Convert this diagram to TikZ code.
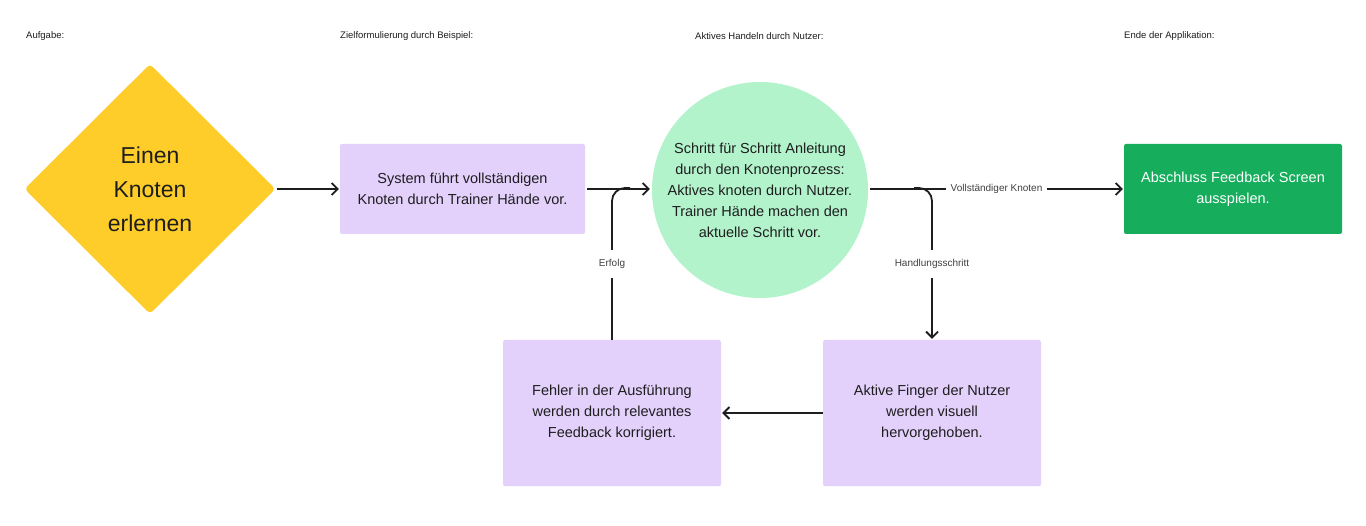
\documentclass[tikz,border=0pt]{standalone}
\usepackage{fontspec}
\setmainfont{Liberation Sans}
\usetikzlibrary{shapes.geometric,arrows.meta}
\definecolor{cyellow}{HTML}{FFCD29}
\definecolor{cviolet}{HTML}{E3D1FC}
\definecolor{clgreen}{HTML}{B2F3CC}
\definecolor{cgreen}{HTML}{16AE5C}
\definecolor{cline}{HTML}{1E1E1E}
\tikzset{
  box/.style={rectangle, rounded corners=2pt, inner sep=0pt, align=center, font=\fontsize{14.5}{21}\selectfont, text=cline},
  head/.style={anchor=west, inner sep=0pt, font=\fontsize{9.5}{11}\selectfont, text=cline},
  conn/.style={draw=cline, line width=1.8pt},
  arr/.style={conn, -{Straight Barb[length=6pt,width=12pt,line width=1.8pt]}},
  lbl/.style={fill=white, inner xsep=5pt, inner ysep=9pt, font=\fontsize{10}{12}\selectfont, text=cline!85}
}
\begin{document}
\begin{tikzpicture}[x=1pt,y=1pt]
\useasboundingbox (0,0) rectangle (1366,-526);
\fill[white] (0,0) rectangle (1366,-526);
% headers
\node[head] (h1) at (26,-36) {Aufgabe:};
\node[head] (h2) at (340,-36) {Zielformulierung durch Beispiel:};
\node[head] (h3) at (695,-36) {Aktives Handeln durch Nutzer:};
\node[head] (h4) at (1124,-36) {Ende der Applikation:};
% nodes
\node[diamond, aspect=1, fill=cyellow, minimum width=251pt, minimum height=250pt, inner sep=0pt, rounded corners=4pt, align=center, font=\fontsize{23}{34}\selectfont, text=cline] (d) at (150,-189) {Einen\\Knoten\\erlernen};
\node[box, fill=cviolet, minimum width=245pt, minimum height=90pt] (b1) at (462.5,-189) {System führt vollständigen\\Knoten durch Trainer Hände vor.};
\node[circle, fill=clgreen, minimum size=216pt, inner sep=0pt, align=center, font=\fontsize{14.5}{21}\selectfont, text=cline] (c) at (760,-190) {Schritt für Schritt Anleitung\\durch den Knotenprozess:\\Aktives knoten durch Nutzer.\\Trainer Hände machen den\\aktuelle Schritt vor.};
\node[box, fill=cgreen, text=white, minimum width=218pt, minimum height=90pt] (g) at (1233,-189) {Abschluss Feedback Screen\\ausspielen.};
\node[box, fill=cviolet, minimum width=218pt, minimum height=146pt] (bl) at (612,-413) {Fehler in der Ausführung\\werden durch relevantes\\Feedback korrigiert.};
\node[box, fill=cviolet, minimum width=218pt, minimum height=146pt] (br) at (932,-413) {Aktive Finger der Nutzer\\werden visuell\\hervorgehoben.};
% connectors
\draw[arr] ([xshift=1pt]d.east) -- ([xshift=-1pt]b1.west);
\draw[arr] ([xshift=2pt]b1.east) -- ([xshift=-2pt]c.west |- b1.east);
\draw[arr] ([xshift=2pt]c.east |- g.west) -- node[lbl, pos=0.5] (lv) {Vollständiger Knoten} ([xshift=-1pt]g.west);
\draw[arr] (br.west) -- ([xshift=1pt]bl.east);
\coordinate (j1) at (630,-188);
\coordinate (k1) at (612,-188);
\draw[conn, rounded corners=13pt] (bl.north) -- (k1) -- (j1);
\node[lbl] (le) at (612,-264) {Erfolg};
\coordinate (j2) at (914,-188);
\coordinate (k2) at (932,-188);
\draw[arr, rounded corners=13pt] (j2) -- (k2) -- ([yshift=1pt]br.north);
\node[lbl] (lh) at (932,-264) {Handlungsschritt};
\end{tikzpicture}
\end{document}
